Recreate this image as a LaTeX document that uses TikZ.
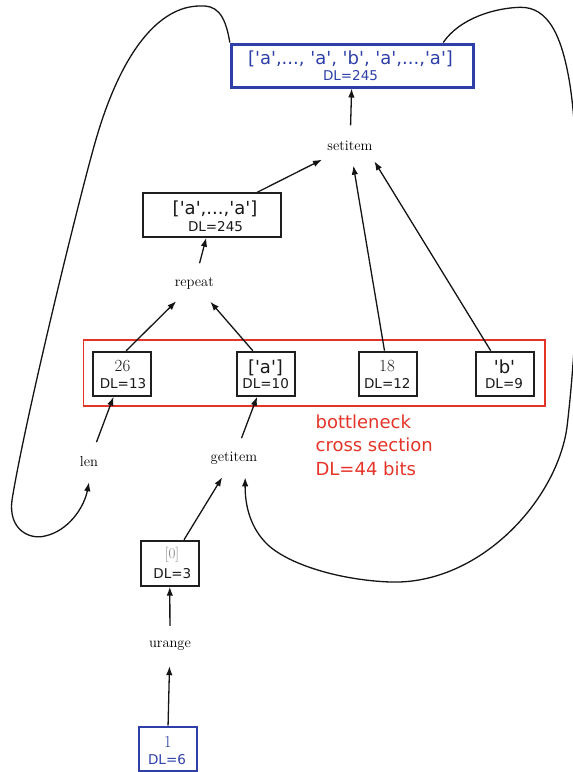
\documentclass[tikz,border=0pt]{standalone}
\usepackage{fontspec}
\newfontfamily\vera{DejaVu Sans}
\usetikzlibrary{arrows.meta,shapes.geometric,calc}
\definecolor{nodeblue}{RGB}{46,64,168}
\definecolor{secred}{RGB}{228,52,40}
\definecolor{dimgray}{RGB}{128,128,128}
\newcommand\squote{\textquotesingle}
\tikzset{
  box/.style={draw=black!88, line width=2pt, fill=white, inner sep=0pt,
    minimum width=58pt, minimum height=44pt},
  outbox/.style={box, draw=nodeblue, line width=3pt,
    minimum width=242pt, minimum height=43pt},
  op/.style={ellipse, inner sep=0pt, minimum width=78pt, minimum height=40pt,
    font=\fontsize{14.5}{16}\selectfont, text=black},
  bigtxt/.style={anchor=base, inner sep=0pt, text=black!90,
    font=\vera\fontsize{18}{20}\selectfont},
  dltxt/.style={anchor=base, inner sep=0pt, text=black!90,
    font=\vera\fontsize{13.5}{15}\selectfont},
  numtxt/.style={anchor=base, inner sep=0pt, text=black!90,
    font=\fontsize{17}{19}\selectfont},
  note/.style={anchor=base west, inner sep=0pt, text=secred,
    font=\vera\fontsize{18}{22}\selectfont},
  flow/.style={-{Latex[length=9pt,width=6.5pt]}, line width=1.3pt, draw=black!92},
}
\begin{document}
\begin{tikzpicture}[x=1pt,y=-1pt]
\useasboundingbox (0,0) rectangle (573,772);

% result list
\node[outbox] (out) at (352.3,65.5) {};
\node[bigtxt, text=nodeblue] (outv) at (350.5,64)
  {[\squote a\squote,..., \squote a\squote, \squote b\squote, \squote a\squote,...,\squote a\squote]};
\node[dltxt, text=nodeblue] (outd) at (350.5,80.5) {DL=245};

% operations
\node[op] (setitem) at (350,145.5) {setitem};
\node[op] (repeat) at (194.3,283.3) {repeat};
\node[op] (len) at (89,462) {len};
\node[op] (getitem) at (234,458) {getitem};
\node[op] (urange) at (170,646) {urange};

% repeated list
\node[box, minimum width=138pt, minimum height=43.4pt] (box2) at (212.2,215) {};
\node[bigtxt] (box2v) at (215,214.3) {[\squote a\squote,...,\squote a\squote]};
\node[dltxt] (box2d) at (215.5,231) {DL=245};

% bottleneck cross section
\node[draw=secred, line width=1.5pt, minimum width=461.7pt, minimum height=66pt,
  inner sep=0pt] (section) at (314.2,373) {};

\node[box] (n26) at (122.2,373.7) {};
\node[numtxt] (n26v) at (122.5,371.7) {26};
\node[dltxt] (n26d) at (123,388.7) {DL=13};

\node[box] (na) at (265.8,373.7) {};
\node[bigtxt] (nav) at (265.5,373.3) {[\squote a\squote]};
\node[dltxt] (nad) at (265.7,388.7) {DL=10};

\node[box] (n18) at (387.5,373.7) {};
\node[numtxt] (n18v) at (387,371.7) {18};
\node[dltxt] (n18d) at (387.3,388.7) {DL=12};

\node[box] (nb) at (504.7,373.7) {};
\node[bigtxt] (nbv) at (504.5,373.3) {\squote b\squote};
\node[dltxt] (nbd) at (504,388.7) {DL=9};

\node[note] (note1) at (315.4,428.4) {bottleneck};
\node[note] (note2) at (315.4,451.7) {cross section};
\node[note] (note3) at (315.4,475) {DL=44 bits};

% index and range input
\node[box, minimum height=45pt] (n0) at (169.7,563.2) {};
\node[numtxt, text=dimgray, font=\fontsize{15}{17}\selectfont] (n0v) at (172,558.5) {[0]};
\node[dltxt] (n0d) at (172.3,578.3) {DL=3};

\node[box, draw=nodeblue] (n1) at (167.5,748.5) {};
\node[numtxt, text=nodeblue] (n1v) at (167.7,747.3) {1};
\node[dltxt, text=nodeblue] (n1d) at (167,764) {DL=6};

% data flow
\draw[flow] (setitem) -- (out);
\draw[flow] (box2) -- (setitem);
\draw[flow] (repeat) -- (box2);
\draw[flow] ($(n26.north)+(4,0)$) -- (repeat);
\draw[flow] ($(na.north)+(-13,0)$) -- (repeat);
\draw[flow] ($(n18.north)+(-3,0)$) -- (setitem);
\draw[flow] ($(nb.north)+(-14,0)$) -- (setitem.-33);
\draw[flow] (len) -- (n26);
\draw[flow] (getitem) -- (na);
\draw[flow] (n0) -- (getitem);
\draw[flow] (urange) -- (n0);
\draw[flow] (n1) -- (urange);

% feedback loops from the result
\draw[flow] (out.north west) .. controls (225,12) and (215,5) .. (200,6)
  .. controls (160,6) and (120,50) .. (93,150)
  .. controls (75,215) and (25,420) .. (12,500)
  .. controls (8,530) and (30,540) .. (45,536)
  .. controls (68,531) and (84,508) .. (len.south);
\draw[flow] ($(out.north east)+(-31.6,0)$) .. controls (460,18) and (495,8) .. (520,7.3)
  .. controls (548,6.7) and (562,35) .. (570,85)
  .. controls (580,150) and (582,300) .. (567,427)
  .. controls (557,500) and (480,585) .. (390,582)
  .. controls (340,580) and (290,565) .. (268,545)
  .. controls (250,528) and (245,505) .. (getitem.-60);
\end{tikzpicture}
\end{document}
